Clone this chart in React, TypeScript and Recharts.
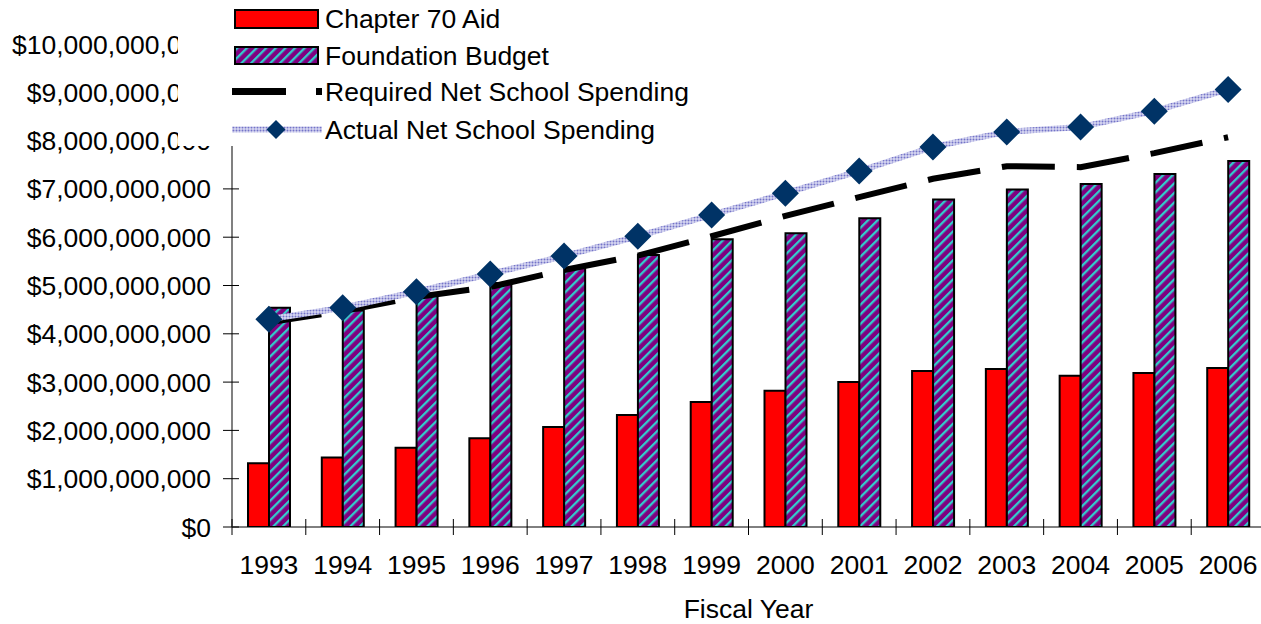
import React from 'react';
import { ComposedChart, Bar, Line, XAxis, YAxis, Legend } from 'recharts';

const years = ['1993', '1994', '1995', '1996', '1997', '1998', '1999', '2000', '2001', '2002', '2003', '2004', '2005', '2006'];

// values in billions of dollars
const chapter70Aid = [1.32, 1.44, 1.64, 1.84, 2.07, 2.32, 2.59, 2.82, 3.0, 3.23, 3.27, 3.13, 3.19, 3.29];
const foundationBudget = [4.54, 4.48, 4.8, 5.05, 5.36, 5.63, 5.96, 6.08, 6.39, 6.78, 6.99, 7.1, 7.31, 7.58];
const requiredNSS = [4.24, 4.47, 4.76, 4.97, 5.32, 5.62, 6.02, 6.44, 6.83, 7.21, 7.47, 7.45, 7.74, 8.07];
const actualNSS = [4.3, 4.54, 4.87, 5.24, 5.61, 6.02, 6.46, 6.91, 7.37, 7.87, 8.18, 8.28, 8.61, 9.06];

const yTicks = [0, 1e9, 2e9, 3e9, 4e9, 5e9, 6e9, 7e9, 8e9, 9e9, 1e10];

const seriesNames = ['Chapter 70 Aid', 'Foundation Budget', 'Required Net School Spending', 'Actual Net School Spending'];

const B = 1e9;
const data = years.map((year, i) => ({
  year,
  aid: chapter70Aid[i] * B,
  foundation: foundationBudget[i] * B,
  required: requiredNSS[i] * B,
  actual: actualNSS[i] * B,
}));

const FONT = '"Liberation Sans", Arial, sans-serif';
const FS = 26.5;

const money = (v: number) => '$' + v.toLocaleString('en-US');

function YTick(props: any) {
  const { x, y, payload } = props;
  return (
    <g>
      <line x1={x - 9} x2={x + 7} y1={y} y2={y} stroke="#000" strokeWidth={1} />
      <text x={x - 21} y={y} dy="0.36em" textAnchor="end" fontSize={FS} fill="#000" fontFamily={FONT}>
        {money(payload.value)}
      </text>
    </g>
  );
}

function XTick(props: any) {
  const { x, y, payload, index, visibleTicksCount } = props;
  const half = payload.offset ?? 36.9;
  return (
    <g>
      <line x1={x - half} x2={x - half} y1={y - 8} y2={y + 8} stroke="#000" strokeWidth={1} />
      {index === visibleTicksCount - 1 && (
        <line x1={x + half} x2={x + half} y1={y - 8} y2={y + 8} stroke="#000" strokeWidth={1} />
      )}
      <text x={x} y={y + 47} textAnchor="middle" fontSize={FS} fill="#000" fontFamily={FONT}>
        {payload.value}
      </text>
    </g>
  );
}

function Diamond(props: any) {
  const { cx, cy } = props;
  if (cx == null || cy == null) return null;
  const r = 13.5;
  return <polygon points={`${cx},${cy - r} ${cx + r},${cy} ${cx},${cy + r} ${cx - r},${cy}`} fill="#003366" />;
}

function LegendBox() {
  const rowY = [19, 55.5, 91.5, 129.5];
  return (
    <div style={{ position: 'relative', width: 520, height: 146, background: '#fff', fontFamily: FONT }}>
      <svg width={520} height={146} style={{ position: 'absolute', left: 0, top: 0 }}>
        <rect x={57} y={rowY[0] - 9} width={83} height={18} fill="#FF0000" stroke="#000" strokeWidth={2} />
        <rect x={57} y={rowY[1] - 8.5} width={83} height={17} fill="url(#stripes)" stroke="#000" strokeWidth={2} />
        <line x1={54} x2={144} y1={rowY[2]} y2={rowY[2]} stroke="#000" strokeWidth={7} strokeDasharray="54 30" />
        <line x1={54} x2={144} y1={rowY[3]} y2={rowY[3]} stroke="url(#dots)" strokeWidth={6} />
        <polygon
          points={`98,${rowY[3] - 9.5} 107.5,${rowY[3]} 98,${rowY[3] + 9.5} 88.5,${rowY[3]}`}
          fill="#003366"
        />
      </svg>
      {seriesNames.map((name, i) => (
        <div
          key={name}
          style={{
            position: 'absolute',
            left: 147,
            top: rowY[i] - 15,
            fontSize: FS,
            lineHeight: '30px',
            whiteSpace: 'nowrap',
            color: '#000',
          }}
        >
          {name}
        </div>
      ))}
    </div>
  );
}

export default function App() {
  return (
    <div
      style={{
        position: 'absolute',
        left: 0,
        top: 0,
        width: 1261,
        height: 624,
        overflow: 'hidden',
        background: '#fff',
        fontFamily: FONT,
      }}
    >
      <ComposedChart
        width={1270}
        height={624}
        data={data}
        margin={{ top: 44, right: 5, bottom: 0, left: 0 }}
        barGap={0}
      >
        <defs>
          <pattern id="stripes" patternUnits="userSpaceOnUse" width={6.8} height={6.8} patternTransform="rotate(45)">
            <rect x={0} y={0} width={6.8} height={6.8} fill="#800080" />
            <rect x={0} y={0} width={2.3} height={6.8} fill="#33CCCC" />
          </pattern>
          <pattern id="dots" patternUnits="userSpaceOnUse" width={3} height={3}>
            <rect x={0} y={0} width={3} height={3} fill="#d8d8f2" />
            <circle cx={1.5} cy={1.5} r={1} fill="#7474c8" />
          </pattern>
        </defs>
        <XAxis
          dataKey="year"
          height={97}
          axisLine={{ stroke: '#000', strokeWidth: 1 }}
          tickLine={false}
          tickSize={0}
          tickMargin={0}
          tick={<XTick />}
          interval={0}
          label={{ value: 'Fiscal Year', position: 'insideBottom', offset: 6, fontSize: FS, fill: '#000', fontFamily: FONT }}
        />
        <YAxis
          width={232}
          domain={[0, 1e10]}
          ticks={yTicks}
          interval={0}
          axisLine={{ stroke: '#808080', strokeWidth: 2 }}
          tickLine={false}
          tickSize={0}
          tickMargin={0}
          tick={<YTick />}
          allowDataOverflow
        />
        <Legend
          layout="vertical"
          align="center"
          verticalAlign="middle"
          content={<LegendBox />}
          wrapperStyle={{ left: 178, top: 0, width: 520, height: 146, background: '#fff' }}
        />
        <Bar dataKey="aid" name={seriesNames[0]} fill="#FF0000" stroke="#000" strokeWidth={2} barSize={21} isAnimationActive={false} />
        <Bar dataKey="foundation" name={seriesNames[1]} fill="url(#stripes)" stroke="#000" strokeWidth={2} barSize={21} isAnimationActive={false} />
        <Line
          dataKey="required"
          name={seriesNames[2]}
          type="linear"
          stroke="#000"
          strokeWidth={6}
          strokeDasharray="53 22"
          dot={false}
          activeDot={false}
          isAnimationActive={false}
        />
        <Line
          dataKey="actual"
          name={seriesNames[3]}
          type="linear"
          stroke="url(#dots)"
          strokeWidth={6}
          dot={<Diamond />}
          activeDot={false}
          isAnimationActive={false}
        />
      </ComposedChart>
    </div>
  );
}
